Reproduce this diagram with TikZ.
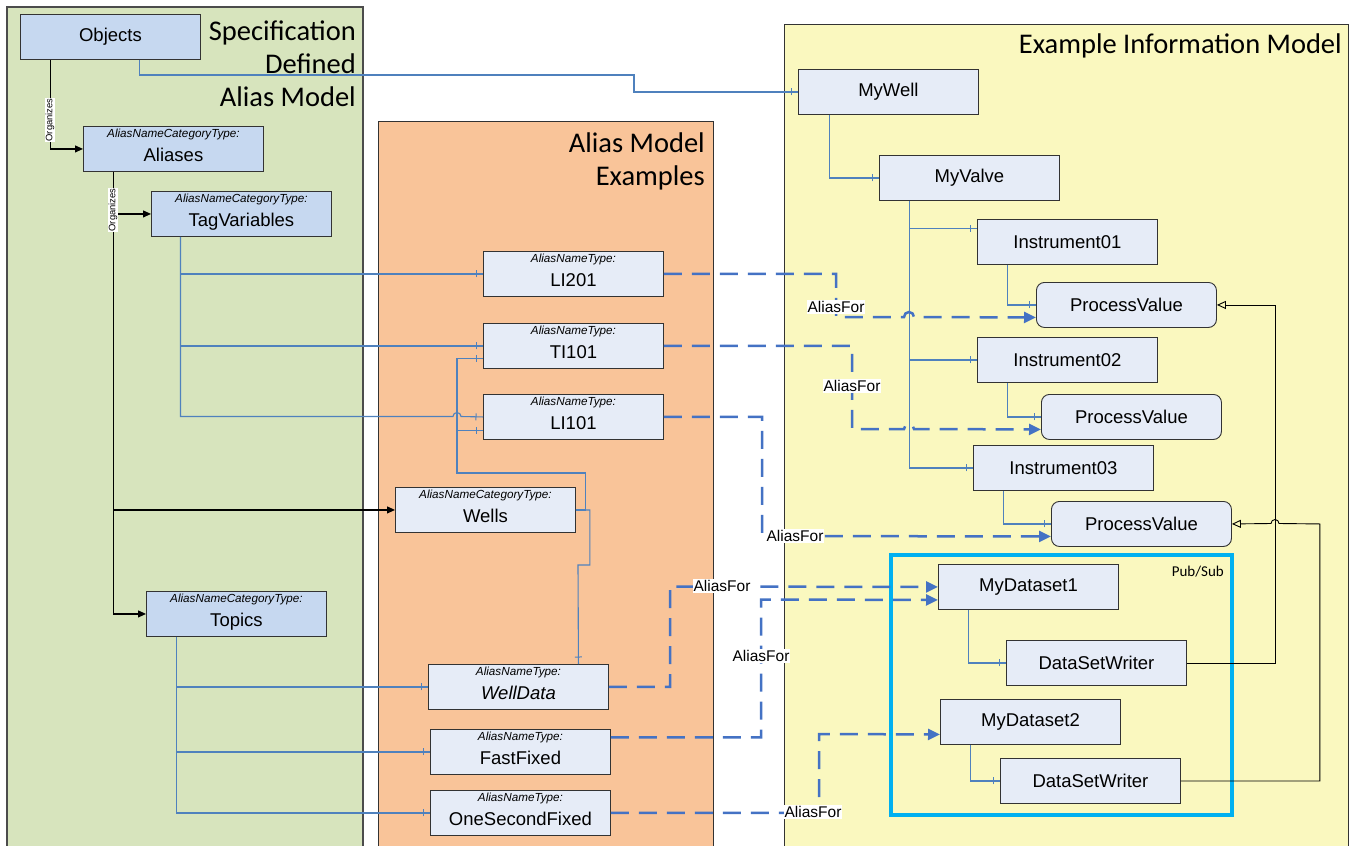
\documentclass[tikz,border=0pt]{standalone}
\usepackage{fontspec}
\setmainfont{Liberation Sans}
\newfontfamily\calibri{Carlito}
\usetikzlibrary{arrows.meta,decorations.markings}

\definecolor{greenbg}{RGB}{215,228,189}
\definecolor{orangebg}{RGB}{249,196,153}
\definecolor{yellowbg}{RGB}{250,248,191}
\definecolor{darkfill}{RGB}{198,216,240}
\definecolor{lightfill}{RGB}{230,236,247}
\definecolor{refblue}{RGB}{79,129,189}
\definecolor{aliasblue}{RGB}{68,114,196}
\definecolor{pubsub}{RGB}{0,176,240}

\newcommand{\typed}[2]{{\fontsize{11.7}{14}\selectfont\itshape #1}\\[4pt]#2\rule[-8pt]{0pt}{8pt}}

\begin{document}
\begin{tikzpicture}[x=1pt,y=-1pt,
  main node/.style={draw=black!80,line width=0.9pt,minimum width=180pt,minimum height=45pt,inner sep=0pt,anchor=north west,align=center,font=\fontsize{18.5}{20}\selectfont},
  spec node/.style={main node,fill=darkfill},
  ex node/.style={main node,fill=lightfill},
  value node/.style={ex node,rounded corners=8pt},
  panel title/.style={anchor=base east,inner sep=0pt,font=\calibri\fontsize{28.5}{33}\selectfont},
  organizes/.style={black,line width=1.1pt,-{Triangle[length=8pt,width=7pt]}},
  hasref/.style={refblue,line width=1.1pt,postaction={decorate},decoration={markings,mark=at position -7pt with {\draw[refblue,line width=1pt] (0pt,-3.5pt) -- (0pt,3.5pt);}}},
  aliasfor line/.style={aliasblue,line width=2.5pt,dash pattern=on 18pt off 10pt,-{Triangle[length=12pt,width=11pt]}},
  aliasfor label/.style={fill=white,inner sep=1pt,font=\fontsize{15.5}{17}\selectfont},
  org label/.style={fill=white,inner sep=0.5pt,rotate=90,font=\fontsize{9.4}{10}\selectfont},
  inherits/.style={black,line width=0.9pt,-{Triangle[open,length=9pt,width=8pt,fill=yellowbg]}}]

  \fill[white] (0,0) rectangle (1352,846);
  \useasboundingbox (0,0) rectangle (1352,846);

  \fill[greenbg] (7,7) rectangle (363,846);
  \draw[black!70,line width=1.3pt] (7,846) |- (363,7) -- (363,846);
  \fill[orangebg] (378,121) rectangle (713,846);
  \draw[black!80,line width=1pt] (378,846) |- (713,121) -- (713,846);
  \fill[yellowbg] (784,24) rectangle (1348,846);
  \draw[black!80,line width=1pt] (784,846) |- (1348,24) -- (1348,846);

  \node[panel title] (spec1) at (356,40) {Specification};
  \node[panel title] (spec2) at (356,73) {Defined};
  \node[panel title] (spec3) at (356,106) {Alias Model};
  \node[panel title] (ex1) at (705,152) {Alias Model};
  \node[panel title] (ex2) at (705,185) {Examples};
  \node[panel title] (info) at (1342,53) {Example Information Model};

  \draw[pubsub,line width=4pt] (891,555) rectangle (1232,815);
  \node[anchor=base east,inner sep=0pt,font=\calibri\fontsize{15}{17}\selectfont] (pubsub label) at (1224,576) {Pub/Sub};

  \node[spec node] (objects) at (20,14) {Objects};
  \node[spec node] (aliases) at (83,126) {\typed{AliasNameCategoryType:}{Aliases}};
  \node[spec node] (tagvars) at (151,191) {\typed{AliasNameCategoryType:}{TagVariables}};
  \node[spec node] (topics) at (146,591) {\typed{AliasNameCategoryType:}{Topics}};

  \node[ex node] (li201) at (483,251) {\typed{AliasNameType:}{LI201}};
  \node[ex node] (ti101) at (483,323) {\typed{AliasNameType:}{TI101}};
  \node[ex node] (li101) at (483,394) {\typed{AliasNameType:}{LI101}};
  \node[ex node] (wells) at (395,487) {\typed{AliasNameCategoryType:}{Wells}};
  \node[ex node] (welldata) at (428,664) {\typed{AliasNameType:}{\itshape WellData}};
  \node[ex node] (fastfixed) at (430,729) {\typed{AliasNameType:}{FastFixed}};
  \node[ex node] (onesec) at (430,790) {\typed{AliasNameType:}{OneSecondFixed}};

  \node[ex node] (mywell) at (798,69) {MyWell};
  \node[ex node] (myvalve) at (879,155) {MyValve};
  \node[ex node] (inst1) at (977,219) {Instrument01};
  \node[value node] (pv1) at (1036,282) {ProcessValue};
  \node[ex node] (inst2) at (977,337) {Instrument02};
  \node[value node] (pv2) at (1041,394) {ProcessValue};
  \node[ex node] (inst3) at (973,445) {Instrument03};
  \node[value node] (pv3) at (1051,501) {ProcessValue};
  \node[ex node] (mydata1) at (938,564) {MyDataset1};
  \node[ex node] (dsw1) at (1006,640) {DataSetWriter};
  \node[ex node] (mydata2) at (940,699) {MyDataset2};
  \node[ex node] (dsw2) at (1000,758) {DataSetWriter};

  \draw[organizes] ([xshift=-60pt]objects.south) |- (aliases.west);
  \draw[organizes] ([xshift=-60pt]aliases.south) |- (tagvars.west);
  \draw[organizes] ([xshift=-60pt]aliases.south) |- (wells.west);
  \draw[organizes] ([xshift=-60pt]aliases.south) |- (topics.west);
  \node[org label] (org1) at (50,120) {Organizes};
  \node[org label] (org2) at (113,210) {Organizes};

  \draw[hasref] ([xshift=29pt]objects.south) |- (634,75) |- (mywell.west);
  \draw[hasref] ([xshift=-61pt]tagvars.south) |- (li201.west);
  \draw[hasref] ([xshift=-61pt]tagvars.south) |- (ti101.west);
  \draw[hasref] ([xshift=-61pt]tagvars.south) |- (453,416.5) arc[start angle=180,end angle=360,radius=4] -- (li101.west);
  \draw[hasref] (wells.east) -- ++(10,0) |- (457,473) |- ([yshift=-12.5pt]ti101.west);
  \draw[hasref] (wells.east) -- ++(10,0) |- (457,473) |- ([yshift=-13.5pt]li101.west);
  \draw[hasref] (wells.east) -- ++(14,0) |- (578,565) -- ([xshift=60pt]welldata.north);
  \draw[hasref] ([xshift=-60pt]topics.south) |- (welldata.west);
  \draw[hasref] ([xshift=-60pt]topics.south) |- (fastfixed.west);
  \draw[hasref] ([xshift=-60pt]topics.south) |- (onesec.west);

  \draw[hasref] ([xshift=-59pt]mywell.south) |- (myvalve.west);
  \draw[hasref] ([xshift=-60pt]myvalve.south) |- ([yshift=13.5pt]inst1.west);
  \draw[hasref] ([xshift=-60pt]myvalve.south) |- (inst2.west);
  \draw[hasref] ([xshift=-60pt]myvalve.south) |- (inst3.west);
  \draw[hasref] ([xshift=-60pt]inst1.south) |- (pv1.west);
  \draw[hasref] ([xshift=-60pt]inst2.south) |- (pv2.west);
  \draw[hasref] ([xshift=-60pt]inst3.south) |- (pv3.west);
  \draw[hasref] ([xshift=-60pt]mydata1.south) |- (dsw1.west);
  \draw[hasref] ([xshift=-60pt]mydata2.south) |- (dsw2.west);

  \draw[inherits] (dsw1.east) -| ([xshift=59pt]pv1.east) -- (pv1.east);
  \draw[inherits] (dsw2.east) -| ([xshift=88pt]pv3.east) -- (1279,523.5) arc[start angle=0,end angle=-180,radius=4] -- (pv3.east);

  \draw[aliasfor line] (li201.east) -| (836,317) -- (904,317) arc[start angle=180,end angle=360,radius=5] -- ([yshift=-12.5pt]pv1.west);
  \draw[aliasfor line] (ti101.east) -| (852,429) -- (904,429) arc[start angle=180,end angle=360,radius=5] -- ([yshift=-12.5pt]pv2.west);
  \draw[aliasfor line] (li101.east) -| (762,536) -- ([yshift=-12.5pt]pv3.west);
  \draw[aliasfor line] (welldata.east) -| (670,586.5) -- (mydata1.west);
  \draw[aliasfor line] ([yshift=14.5pt]fastfixed.east) -| (761,599.5) -- ([yshift=-13pt]mydata1.west);
  \draw[aliasfor line] (onesec.east) -| (819,734) -- ([yshift=-12.5pt]mydata2.west);

  \node[aliasfor label] (af1) at (836,307) {AliasFor};
  \node[aliasfor label] (af2) at (852,386) {AliasFor};
  \node[aliasfor label] (af3) at (795,536) {AliasFor};
  \node[aliasfor label] (af4) at (722,586) {AliasFor};
  \node[aliasfor label] (af5) at (761,656) {AliasFor};
  \node[aliasfor label] (af6) at (813,812) {AliasFor};
\end{tikzpicture}
\end{document}
